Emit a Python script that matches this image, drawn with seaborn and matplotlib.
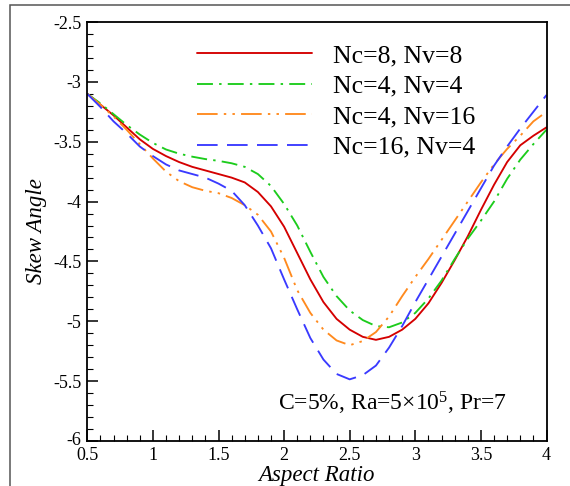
import numpy as np
import pandas as pd
import matplotlib
matplotlib.use("Agg")
import matplotlib.pyplot as plt
import matplotlib.transforms as mtransforms
import seaborn as sns
from matplotlib.ticker import MultipleLocator, FuncFormatter
from matplotlib.patches import Rectangle

# ---------------- data ----------------
aspect_ratio = [0.5, 0.6, 0.7, 0.8, 0.9, 1.0, 1.1, 1.2, 1.3, 1.4, 1.5, 1.6, 1.7, 1.8,
                1.9, 2.0, 2.1, 2.2, 2.3, 2.4, 2.5, 2.6, 2.7, 2.8, 2.9, 3.0, 3.1, 3.2,
                3.3, 3.4, 3.5, 3.6, 3.7, 3.8, 3.9, 4.0]

skew_nc8_nv8 = [-3.10, -3.19, -3.28, -3.38, -3.48, -3.56, -3.62, -3.67, -3.71, -3.74,
                -3.77, -3.80, -3.84, -3.92, -4.04, -4.21, -4.43, -4.65, -4.84, -4.98,
                -5.07, -5.13, -5.155, -5.13, -5.07, -4.98, -4.85, -4.68, -4.49, -4.29,
                -4.07, -3.86, -3.67, -3.53, -3.45, -3.38]

skew_nc4_nv4 = [-3.10, -3.18, -3.27, -3.36, -3.44, -3.51, -3.565, -3.60, -3.625, -3.645,
                -3.66, -3.68, -3.71, -3.77, -3.87, -4.02, -4.20, -4.42, -4.63, -4.79,
                -4.91, -4.99, -5.04, -5.05, -5.01, -4.93, -4.81, -4.66, -4.48, -4.31,
                -4.16, -4.00, -3.81, -3.65, -3.52, -3.40]

skew_nc4_nv16 = [-3.10, -3.19, -3.29, -3.40, -3.52, -3.64, -3.75, -3.83, -3.88, -3.91,
                 -3.93, -3.97, -4.03, -4.11, -4.25, -4.47, -4.74, -4.93, -5.07, -5.16,
                 -5.20, -5.165, -5.09, -4.96, -4.79, -4.63, -4.48, -4.32, -4.16, -4.00,
                 -3.84, -3.69, -3.56, -3.45, -3.33, -3.25]

skew_nc16_nv4 = [-3.10, -3.21, -3.33, -3.43, -3.54, -3.62, -3.69, -3.74, -3.77, -3.80,
                 -3.85, -3.91, -4.03, -4.20, -4.39, -4.65, -4.90, -5.14, -5.32, -5.44,
                 -5.485, -5.45, -5.37, -5.22, -5.04, -4.84, -4.65, -4.46, -4.27, -4.08,
                 -3.89, -3.70, -3.54, -3.39, -3.25, -3.11]

case_labels = ["Nc=8, Nv=8", "Nc=4, Nv=4", "Nc=4, Nv=16", "Nc=16, Nv=4"]
x_ticks = [0.5, 1, 1.5, 2, 2.5, 3, 3.5, 4]
y_ticks = [-6, -5.5, -5, -4.5, -4, -3.5, -3, -2.5]
annotation = "C=5%, Ra=5×10$^{5}$, Pr=7"

# ---------------- styling ----------------
series = [skew_nc8_nv8, skew_nc4_nv4, skew_nc4_nv16, skew_nc16_nv4]
colors = ["#d40000", "#1ccc1c", "#ff8a1e", "#3a3aff"]
styles = ["-", (0, (8.5, 3.3, 1.3, 3.3)), (0, (11, 3.3, 1.3, 3.3, 1.3, 3.3)), (0, (11, 5))]

sns.set_theme(style="white")
plt.rcParams["font.family"] = ["Liberation Serif", "DejaVu Serif"]
plt.rcParams["mathtext.fontset"] = "custom"
plt.rcParams["mathtext.rm"] = "Liberation Serif"
plt.rcParams["mathtext.it"] = "Liberation Serif:italic"

W, H = 570, 486
fig = plt.figure(figsize=(W / 100, H / 100), dpi=100)
fig.patch.set_facecolor("white")
x0, x1, y0, y1 = 87.3, 546.5, 22.0, 441.0
ax = fig.add_axes([x0 / W, 1 - y1 / H, (x1 - x0) / W, (y1 - y0) / H])

for vals, lab, col, ls in zip(series, case_labels, colors, styles):
    df = pd.DataFrame({"AR": aspect_ratio, "skew": vals})
    sns.lineplot(data=df, x="AR", y="skew", ax=ax, color=col, linestyle=ls,
                 linewidth=1.35, label=lab, estimator=None, sort=False)

ax.set_xlim(0.5, 4)
ax.set_ylim(-6, -2.5)
ax.set_xticks(x_ticks)
ax.set_yticks(y_ticks)
fmt = FuncFormatter(lambda v, p: f"{v:g}")
ax.xaxis.set_major_formatter(fmt)
ax.yaxis.set_major_formatter(fmt)
ax.xaxis.set_minor_locator(MultipleLocator(0.1))
ax.yaxis.set_minor_locator(MultipleLocator(0.1))
ax.tick_params(which="major", direction="in", length=8, width=1.1, color="black",
               labelsize=13, labelcolor="black", bottom=True, left=True, top=False, right=False)
ax.tick_params(axis="y", which="major", pad=4)
ax.tick_params(axis="x", which="major", pad=4)
ax.tick_params(which="minor", direction="in", length=4.3, width=0.8, color="black",
               bottom=True, left=True, top=False, right=False)
for s in ax.spines.values():
    s.set_visible(True)
    s.set_color("black")
    s.set_linewidth(1.3)

ax.set_xlabel("Aspect Ratio", fontsize=16.5, style="italic", color="black", labelpad=1)
ax.set_ylabel("Skew Angle", fontsize=16.5, style="italic", color="black", labelpad=5)

# nudge the lowest y tick label up a little so it does not touch "0.5"
fig.canvas.draw()
for lbl in ax.get_yticklabels():
    if lbl.get_text() == "-6":
        lbl.set_transform(lbl.get_transform() +
                          mtransforms.ScaledTranslation(0, 3 / 100, fig.dpi_scale_trans))

leg = ax.legend(loc="upper left", bbox_to_anchor=(196.7 / W, 1 - 44.5 / H),
                bbox_transform=fig.transFigure, frameon=False, fontsize=18.5,
                handlelength=4.5, handletextpad=0.8, labelspacing=0.29,
                borderpad=0, borderaxespad=0)
for t in leg.get_texts():
    t.set_color("black")

ax.text(392 / W, 1 - 410.7 / H, annotation, transform=fig.transFigure,
        ha="center", va="baseline", fontsize=17, color="black")

# outer frame (only its left and top edges are inside the picture)
fig.add_artist(Rectangle((10.5 / W, -0.1), 1.2, (1 - 5 / H) + 0.1,
                         transform=fig.transFigure, fill=False,
                         edgecolor="#555555", linewidth=1.1))

fig.savefig("out.png", dpi=100, facecolor="white")
